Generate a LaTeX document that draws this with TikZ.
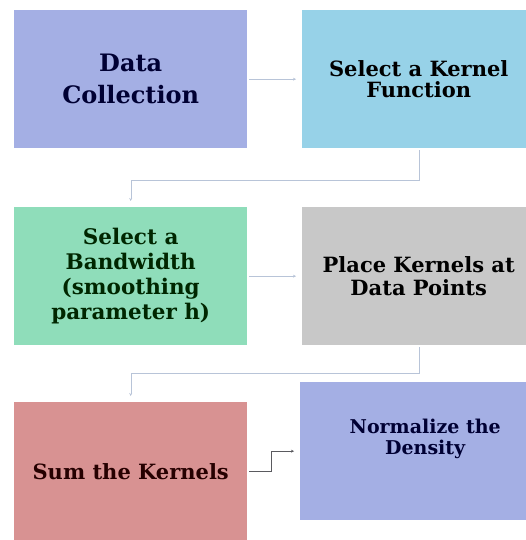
\documentclass[tikz,border=0pt]{standalone}
\usepackage{fontspec}
\newfontfamily\boxfont{DejaVu Serif}
\usepackage{tikz}
\usetikzlibrary{positioning, arrows.meta}
\usepackage{xcolor}

\definecolor{collectblue}{RGB}{164,175,228}
\definecolor{kernelblue}{RGB}{151,210,232}
\definecolor{bandgreen}{RGB}{143,221,186}
\definecolor{placegray}{RGB}{200,200,200}
\definecolor{sumred}{RGB}{216,146,146}
\definecolor{linkgray}{RGB}{184,196,216}
\definecolor{darklink}{RGB}{90,90,95}

\begin{document}
\begin{tikzpicture}[x=1pt, y=-1pt,
  every node/.style={inner sep=2pt},
  stage/.style={rectangle, anchor=north west, align=center,
                minimum width=233pt, minimum height=138pt},
  fs/.style 2 args={font=\boxfont\bfseries\fontsize{#1}{#2}\selectfont},
  arrow/.style={-{Stealth[length=3pt, width=3pt]}, linkgray, thin,
                shorten >=6pt, shorten <=2pt},
  darkarrow/.style={arrow, darklink, semithick}]
\useasboundingbox (0,0) rectangle (525,540);
% first row
\node[stage, fill=collectblue, text=black!80!blue, fs={24}{32}] (collect) at (14,10)
  {Data\\Collection};
\node[stage, fill=kernelblue, fs={21}{21}] (kernel) at (302,10)
  {Select a Kernel\\Function};
\draw[arrow] (collect) -- (kernel);
% second row
\node[stage, fill=bandgreen, text=black!85!green, fs={21.5}{25}] (bandw) at (14,207)
  {Select a\\Bandwidth\\(smoothing\\parameter h)};
\node[stage, fill=placegray, fs={21}{23}] (place) at (302,207)
  {Place Kernels at\\Data Points};
\draw[arrow] (kernel.south) -- ++(0,32) -| (bandw.north);
\draw[arrow] (bandw) -- (place);
% third row
\node[stage, fill=sumred, text=black!85!red, fs={21}{24}] (sumk) at (14,402)
  {Sum the Kernels};
\node[stage, fill=collectblue, minimum width=250pt, text=black!80!blue, fs={19}{21}] (norm) at (300,382)
  {Normalize the\\Density\\[8pt]};
\draw[arrow] (place.south) -- ++(0,28) -| (sumk.north);
\draw[darkarrow] (sumk.east) -- ++(24,0) |- (norm.west);
\end{tikzpicture}
\end{document}
